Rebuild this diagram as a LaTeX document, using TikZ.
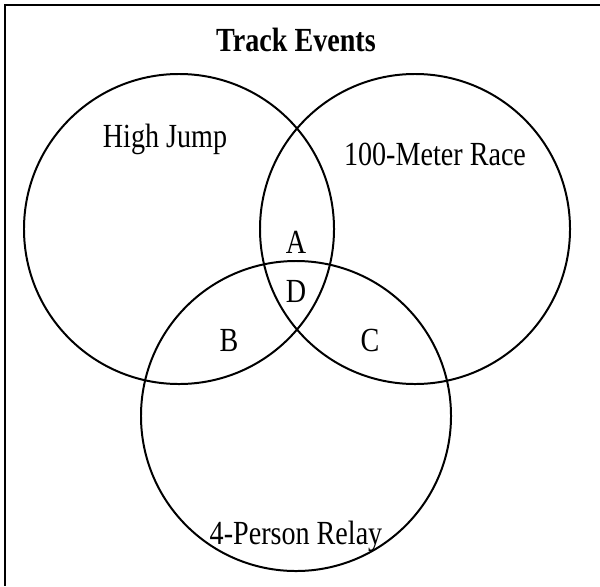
\documentclass[tikz,border=0pt]{standalone}
\usepackage{fontspec}
\setmainfont{Liberation Serif}
\usetikzlibrary{positioning}

% text in the figure is a little taller than wide
\newcommand{\tallText}[1]{\scalebox{1}[1.2]{#1}}

\begin{document}
\begin{tikzpicture}[
	x=0.03cm, y=-0.03cm,
	every node/.style={font=\fontsize{24}{30}\selectfont},
	set/.style={
		draw=black,
		circle,
		minimum size=9.3cm,
		line width=1.7pt
	},
	frame/.style={
		line width=2.4pt
	}
	]
	\useasboundingbox (0,0) rectangle (600,586);
	\draw[frame] (600,5) -- (5,5) -- (5,586);
	
	\node (title) at (296,40) {\tallText{\textbf{Track Events}}};
	
	\node[set] (jump) at (179,229) {};
	\node[set] (race) at (415,229) {};
	\node[set] (relay) at (296,416) {};
	
	\node (jumplbl) at (165,139) {\tallText{High Jump}};
	\node (racelbl) at (435,154) {\tallText{100-Meter Race}};
	\node (relaylbl) at (296,536) {\tallText{4-Person Relay}};
	
	\node (regA) at (296,242) {\tallText{A}};
	\node (regD) at (296,291) {\tallText{D}};
	\node (regB) at (229,340) {\tallText{B}};
	\node (regC) at (370,340) {\tallText{C}};
\end{tikzpicture}
\end{document}
